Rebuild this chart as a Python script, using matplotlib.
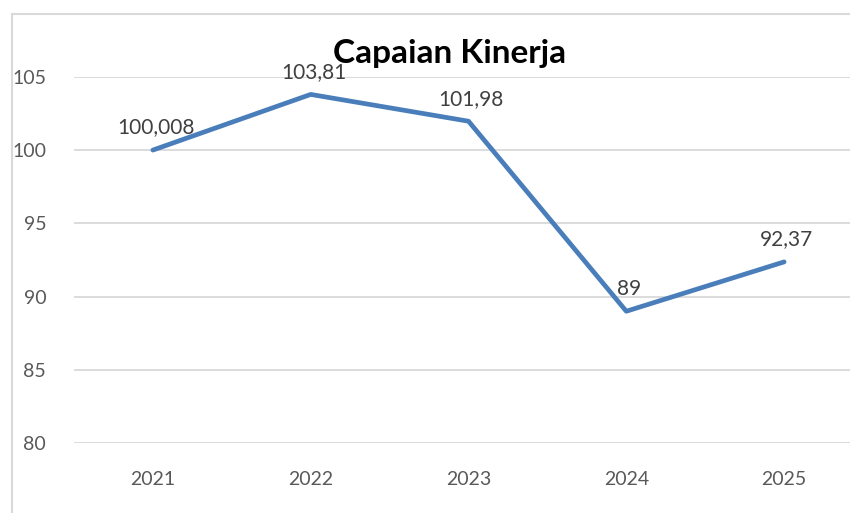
import matplotlib
matplotlib.use("Agg")
import matplotlib.pyplot as plt
from matplotlib.patches import Rectangle

years = ["2021", "2022", "2023", "2024", "2025"]
values = [100.008, 103.81, 101.98, 89, 92.37]
labels = ["100,008", "103,81", "101,98", "89", "92,37"]
yticks = [80, 85, 90, 95, 100, 105]

plt.rcParams['font.family'] = ['Lato', 'DejaVu Sans']

W, H = 850, 513
fig = plt.figure(figsize=(W/100, H/100), dpi=100)
fig.patch.set_facecolor('white')

# chart-area frame
fig.patches.append(Rectangle((12/W, -0.1), 2.0, (513-14)/H + 0.1, transform=fig.transFigure,
                             fill=False, edgecolor='#d9d9d9', linewidth=1.5))

ax = fig.add_axes([74/W, (H-443)/H, (863-74)/W, (443-77)/H])
x = list(range(len(years)))
ax.plot(x, values, color='#4a7ebb', linewidth=3.4, solid_capstyle='round', solid_joinstyle='round', zorder=3)
ax.set_xlim(-0.5, len(years)-0.5)
ax.set_ylim(80, 105)
ax.set_yticks(yticks)
ax.set_yticklabels([str(t) for t in yticks])
ax.set_xticks(x)
ax.set_xticklabels(years)
ax.tick_params(axis='both', length=0, labelsize=14, labelcolor='#595959')
ax.tick_params(axis='y', pad=20)
ax.tick_params(axis='x', pad=20)
ax.grid(axis='y', color='#d9d9d9', linewidth=1.3)
ax.set_axisbelow(True)
for s in ax.spines.values():
    s.set_visible(False)

for xi, v, lab in zip(x, values, labels):
    ax.annotate(lab, (xi, v), xytext=(2, 9), textcoords='offset points',
                ha='center', va='bottom', fontsize=15, color='#404040')

fig.text(450/W, 1 - 53/H, "Capaian Kinerja", ha='center', va='center',
         fontsize=24, fontweight='bold', color='black')

fig.savefig("out.png", dpi=100)
